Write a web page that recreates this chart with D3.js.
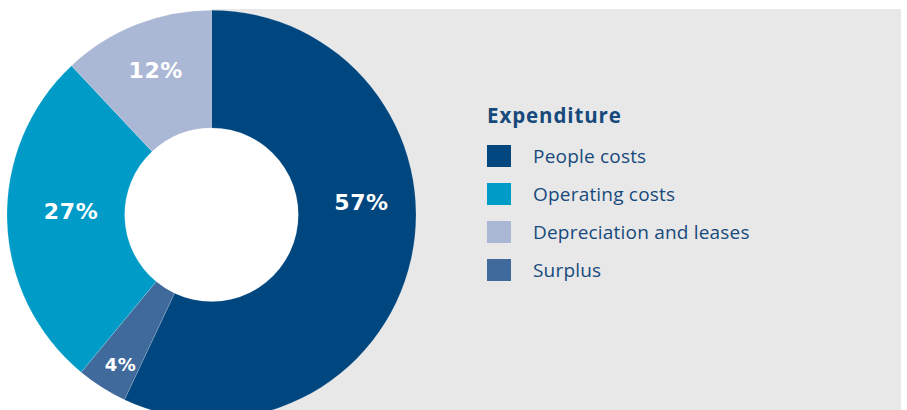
<!DOCTYPE html>
<html><head><meta charset="utf-8">
<script src="https://cdn.jsdelivr.net/npm/d3@7"></script>
<style>html,body{margin:0;padding:0;background:#fff;overflow:hidden}</style>
</head><body>
<svg id="c" width="907" height="410"></svg>
<script>
// Data
const categories = ["People costs", "Surplus", "Operating costs", "Depreciation and leases"];
const values = [57, 4, 27, 12];
const colors = ["#00467F", "#3F6A9B", "#009CC7", "#ABB8D5"];
const legendOrder = ["People costs", "Operating costs", "Depreciation and leases", "Surplus"];
const legendTitle = "Expenditure";

const svg = d3.select("#c");
const cx = 211.5, cy = 214.7, outerR = 204.5, innerR = 86.8;

// grey panel
svg.append("rect").attr("x", 211).attr("y", 9).attr("width", 690).attr("height", 410).attr("fill", "#E8E8E8");

const color = d3.scaleOrdinal().domain(categories).range(colors);
const pie = d3.pie().sort(null).value(d => d.v);
const data = categories.map((c, i) => ({c, v: values[i]}));
const arcs = pie(data);
const arc = d3.arc().innerRadius(innerR).outerRadius(outerR);

const g = svg.append("g").attr("transform", `translate(${cx},${cy})`);
g.append("circle").attr("r", innerR + 1).attr("fill", "#fff");
g.selectAll("path").data(arcs).enter().append("path")
  .attr("d", arc).attr("fill", d => color(d.data.c))
  .attr("stroke", "rgba(255,255,255,0.25)").attr("stroke-width", 0.6);

// label placement tweaks (radius, angle offset in degrees, font size)
const labelR = {"People costs": 150.5, "Surplus": 175.5, "Operating costs": 140.5, "Depreciation and leases": 155};
const labelDA = {"People costs": -17.2, "Surplus": -1.2, "Operating costs": 3.1, "Depreciation and leases": 0.5};
const labelFS = {"People costs": 22, "Surplus": 18, "Operating costs": 22, "Depreciation and leases": 22};

g.selectAll("text.lbl").data(arcs).enter().append("text")
  .attr("class", "lbl")
  .each(function(d) {
    const a = (d.startAngle + d.endAngle) / 2 + labelDA[d.data.c] * Math.PI / 180;
    const r = labelR[d.data.c];
    d3.select(this).attr("x", r * Math.sin(a)).attr("y", -r * Math.cos(a));
  })
  .attr("text-anchor", "middle").attr("dominant-baseline", "central")
  .attr("font-family", "DejaVu Sans").attr("font-weight", "bold")
  .attr("font-size", d => labelFS[d.data.c])
  .attr("letter-spacing", 0.6)
  .attr("fill", "#fff")
  .text(d => d3.format("d")(d.data.v) + "%");

// legend
const lg = svg.append("g").attr("transform", "translate(487,0)");
lg.append("text").attr("x", 0).attr("y", 122.5).text(legendTitle)
  .attr("font-family", "Open Sans").attr("font-weight", 700).attr("font-size", 20.5).attr("letter-spacing", 0.9).attr("fill", "#174A7C");
const ly = d3.scalePoint().domain(legendOrder).range([145, 259]);
const items = lg.selectAll("g.it").data(legendOrder).enter().append("g").attr("class", "it")
  .attr("transform", d => `translate(0,${ly(d)})`);
items.append("rect").attr("width", 24).attr("height", 22).attr("fill", d => color(d));
items.append("text").attr("x", 46).attr("y", 18).text(d => d)
  .attr("font-family", "Open Sans").attr("font-size", 19).attr("letter-spacing", 0.2).attr("fill", "#174A7C");
</script>
</body></html>
